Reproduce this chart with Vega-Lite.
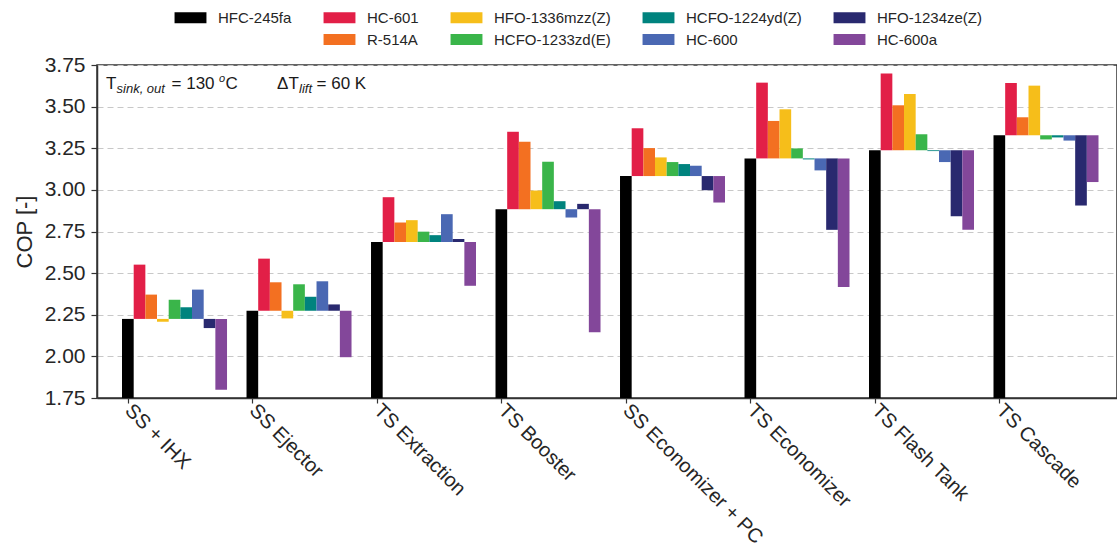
{
  "$schema": "https://vega.github.io/schema/vega-lite/v6.json",
  "width": 1020,
  "height": 333,
  "autosize": {"type": "none"},
  "padding": {"left": 97, "top": 65, "right": 0, "bottom": 155},
  "config": {
    "font": "Liberation Sans",
    "view": {"stroke": "#333333", "strokeWidth": 1.5},
    "legend": {"padding": 0}
  },
  "datasets": {
    "cop": [
      {"config": "SS + IHX", "refrigerant": "HFC-245fa", "cop": 2.225, "ref": 2.225},
      {"config": "SS + IHX", "refrigerant": "HC-601", "cop": 2.551, "ref": 2.225},
      {"config": "SS + IHX", "refrigerant": "R-514A", "cop": 2.371, "ref": 2.225},
      {"config": "SS + IHX", "refrigerant": "HFO-1336mzz(Z)", "cop": 2.208, "ref": 2.225},
      {"config": "SS + IHX", "refrigerant": "HCFO-1233zd(E)", "cop": 2.340, "ref": 2.225},
      {"config": "SS + IHX", "refrigerant": "HCFO-1224yd(Z)", "cop": 2.295, "ref": 2.225},
      {"config": "SS + IHX", "refrigerant": "HC-600", "cop": 2.401, "ref": 2.225},
      {"config": "SS + IHX", "refrigerant": "HFO-1234ze(Z)", "cop": 2.170, "ref": 2.225},
      {"config": "SS + IHX", "refrigerant": "HC-600a", "cop": 1.799, "ref": 2.225},
      {"config": "SS Ejector", "refrigerant": "HFC-245fa", "cop": 2.274, "ref": 2.274},
      {"config": "SS Ejector", "refrigerant": "HC-601", "cop": 2.587, "ref": 2.274},
      {"config": "SS Ejector", "refrigerant": "R-514A", "cop": 2.445, "ref": 2.274},
      {"config": "SS Ejector", "refrigerant": "HFO-1336mzz(Z)", "cop": 2.228, "ref": 2.274},
      {"config": "SS Ejector", "refrigerant": "HCFO-1233zd(E)", "cop": 2.433, "ref": 2.274},
      {"config": "SS Ejector", "refrigerant": "HCFO-1224yd(Z)", "cop": 2.358, "ref": 2.274},
      {"config": "SS Ejector", "refrigerant": "HC-600", "cop": 2.451, "ref": 2.274},
      {"config": "SS Ejector", "refrigerant": "HFO-1234ze(Z)", "cop": 2.312, "ref": 2.274},
      {"config": "SS Ejector", "refrigerant": "HC-600a", "cop": 1.995, "ref": 2.274},
      {"config": "TS Extraction", "refrigerant": "HFC-245fa", "cop": 2.687, "ref": 2.687},
      {"config": "TS Extraction", "refrigerant": "HC-601", "cop": 2.956, "ref": 2.687},
      {"config": "TS Extraction", "refrigerant": "R-514A", "cop": 2.804, "ref": 2.687},
      {"config": "TS Extraction", "refrigerant": "HFO-1336mzz(Z)", "cop": 2.818, "ref": 2.687},
      {"config": "TS Extraction", "refrigerant": "HCFO-1233zd(E)", "cop": 2.749, "ref": 2.687},
      {"config": "TS Extraction", "refrigerant": "HCFO-1224yd(Z)", "cop": 2.728, "ref": 2.687},
      {"config": "TS Extraction", "refrigerant": "HC-600", "cop": 2.854, "ref": 2.687},
      {"config": "TS Extraction", "refrigerant": "HFO-1234ze(Z)", "cop": 2.705, "ref": 2.687},
      {"config": "TS Extraction", "refrigerant": "HC-600a", "cop": 2.424, "ref": 2.687},
      {"config": "TS Booster", "refrigerant": "HFC-245fa", "cop": 2.884, "ref": 2.884},
      {"config": "TS Booster", "refrigerant": "HC-601", "cop": 3.349, "ref": 2.884},
      {"config": "TS Booster", "refrigerant": "R-514A", "cop": 3.289, "ref": 2.884},
      {"config": "TS Booster", "refrigerant": "HFO-1336mzz(Z)", "cop": 2.996, "ref": 2.884},
      {"config": "TS Booster", "refrigerant": "HCFO-1233zd(E)", "cop": 3.169, "ref": 2.884},
      {"config": "TS Booster", "refrigerant": "HCFO-1224yd(Z)", "cop": 2.932, "ref": 2.884},
      {"config": "TS Booster", "refrigerant": "HC-600", "cop": 2.834, "ref": 2.884},
      {"config": "TS Booster", "refrigerant": "HFO-1234ze(Z)", "cop": 2.916, "ref": 2.884},
      {"config": "TS Booster", "refrigerant": "HC-600a", "cop": 2.145, "ref": 2.884},
      {"config": "SS Economizer + PC", "refrigerant": "HFC-245fa", "cop": 3.083, "ref": 3.083},
      {"config": "SS Economizer + PC", "refrigerant": "HC-601", "cop": 3.370, "ref": 3.083},
      {"config": "SS Economizer + PC", "refrigerant": "R-514A", "cop": 3.251, "ref": 3.083},
      {"config": "SS Economizer + PC", "refrigerant": "HFO-1336mzz(Z)", "cop": 3.195, "ref": 3.083},
      {"config": "SS Economizer + PC", "refrigerant": "HCFO-1233zd(E)", "cop": 3.167, "ref": 3.083},
      {"config": "SS Economizer + PC", "refrigerant": "HCFO-1224yd(Z)", "cop": 3.155, "ref": 3.083},
      {"config": "SS Economizer + PC", "refrigerant": "HC-600", "cop": 3.145, "ref": 3.083},
      {"config": "SS Economizer + PC", "refrigerant": "HFO-1234ze(Z)", "cop": 2.998, "ref": 3.083},
      {"config": "SS Economizer + PC", "refrigerant": "HC-600a", "cop": 2.924, "ref": 3.083},
      {"config": "TS Economizer", "refrigerant": "HFC-245fa", "cop": 3.189, "ref": 3.189},
      {"config": "TS Economizer", "refrigerant": "HC-601", "cop": 3.644, "ref": 3.189},
      {"config": "TS Economizer", "refrigerant": "R-514A", "cop": 3.414, "ref": 3.189},
      {"config": "TS Economizer", "refrigerant": "HFO-1336mzz(Z)", "cop": 3.484, "ref": 3.189},
      {"config": "TS Economizer", "refrigerant": "HCFO-1233zd(E)", "cop": 3.249, "ref": 3.189},
      {"config": "TS Economizer", "refrigerant": "HCFO-1224yd(Z)", "cop": 3.183, "ref": 3.189},
      {"config": "TS Economizer", "refrigerant": "HC-600", "cop": 3.117, "ref": 3.189},
      {"config": "TS Economizer", "refrigerant": "HFO-1234ze(Z)", "cop": 2.760, "ref": 3.189},
      {"config": "TS Economizer", "refrigerant": "HC-600a", "cop": 2.416, "ref": 3.189},
      {"config": "TS Flash Tank", "refrigerant": "HFC-245fa", "cop": 3.238, "ref": 3.238},
      {"config": "TS Flash Tank", "refrigerant": "HC-601", "cop": 3.699, "ref": 3.238},
      {"config": "TS Flash Tank", "refrigerant": "R-514A", "cop": 3.508, "ref": 3.238},
      {"config": "TS Flash Tank", "refrigerant": "HFO-1336mzz(Z)", "cop": 3.576, "ref": 3.238},
      {"config": "TS Flash Tank", "refrigerant": "HCFO-1233zd(E)", "cop": 3.334, "ref": 3.238},
      {"config": "TS Flash Tank", "refrigerant": "HCFO-1224yd(Z)", "cop": 3.233, "ref": 3.238},
      {"config": "TS Flash Tank", "refrigerant": "HC-600", "cop": 3.167, "ref": 3.238},
      {"config": "TS Flash Tank", "refrigerant": "HFO-1234ze(Z)", "cop": 2.841, "ref": 3.238},
      {"config": "TS Flash Tank", "refrigerant": "HC-600a", "cop": 2.760, "ref": 3.238},
      {"config": "TS Cascade", "refrigerant": "HFC-245fa", "cop": 3.328, "ref": 3.328},
      {"config": "TS Cascade", "refrigerant": "HC-601", "cop": 3.642, "ref": 3.328},
      {"config": "TS Cascade", "refrigerant": "R-514A", "cop": 3.436, "ref": 3.328},
      {"config": "TS Cascade", "refrigerant": "HFO-1336mzz(Z)", "cop": 3.626, "ref": 3.328},
      {"config": "TS Cascade", "refrigerant": "HCFO-1233zd(E)", "cop": 3.303, "ref": 3.328},
      {"config": "TS Cascade", "refrigerant": "HCFO-1224yd(Z)", "cop": 3.315, "ref": 3.328},
      {"config": "TS Cascade", "refrigerant": "HC-600", "cop": 3.296, "ref": 3.328},
      {"config": "TS Cascade", "refrigerant": "HFO-1234ze(Z)", "cop": 2.906, "ref": 3.328},
      {"config": "TS Cascade", "refrigerant": "HC-600a", "cop": 3.047, "ref": 3.328}
    ]
  },
  "layer": [
    {
      "data": {"name": "cop"},
      "transform": [{"filter": "datum.refrigerant === 'HFC-245fa'"}],
      "mark": {"type": "bar"},
      "encoding": {
        "x": {
          "field": "config", "type": "nominal", "title": null,
          "sort": ["SS + IHX", "SS Ejector", "TS Extraction", "TS Booster", "SS Economizer + PC", "TS Economizer", "TS Flash Tank", "TS Cascade"],
          "scale": {"paddingInner": 0.1566, "paddingOuter": 0.1748, "align": 0.575},
          "axis": {
            "tickOffset": -46.7, "labelAngle": 45, "labelAlign": "left", "labelBaseline": "middle",
            "labelFontSize": 20, "labelColor": "#262626", "labelPadding": 4, "labelLimit": 500,
            "labelOverlap": false, "labelFlush": false, "tickSize": 5, "tickColor": "#333333", "tickWidth": 1.2,
            "domainColor": "#333333", "domainWidth": 1.5, "grid": false
          }
        },
        "xOffset": {
          "field": "refrigerant", "type": "nominal",
          "scale": {"domain": ["HFC-245fa", "HC-601", "R-514A", "HFO-1336mzz(Z)", "HCFO-1233zd(E)", "HCFO-1224yd(Z)", "HC-600", "HFO-1234ze(Z)", "HC-600a"], "paddingInner": 0, "paddingOuter": 0}
        },
        "y": {
          "field": "cop", "type": "quantitative", "title": "COP [-]",
          "scale": {"domain": [1.75, 3.75], "zero": false, "nice": false},
          "axis": {
            "values": [1.75, 2.0, 2.25, 2.5, 2.75, 3.0, 3.25, 3.5, 3.75], "format": ".2f",
            "labelFontSize": 21, "labelColor": "#262626", "labelPadding": 6, "labelFlush": false, "labelOverlap": false,
            "titleFontSize": 22, "titleFontWeight": "normal", "titleColor": "#262626", "titlePadding": 8,
            "tickSize": 6, "tickColor": "#333333", "tickWidth": 1.2, "domainColor": "#333333", "domainWidth": 1.5,
            "grid": true, "gridDash": [6, 4], "gridColor": "#c8c8c8", "gridWidth": 1
          }
        },
        "y2": {"datum": 1.75},
        "color": {
          "field": "refrigerant", "type": "nominal",
          "scale": {
            "domain": ["HFC-245fa", "blank", "HC-601", "R-514A", "HFO-1336mzz(Z)", "HCFO-1233zd(E)", "HCFO-1224yd(Z)", "HC-600", "HFO-1234ze(Z)", "HC-600a"],
            "range": ["#000000", "rgba(0,0,0,0)", "#e21f47", "#f37021", "#f6be1a", "#3ab54a", "#00837e", "#4a68b3", "#29296f", "#83479a"]
          },
          "legend": {
            "title": null, "orient": "none", "legendX": 86, "legendY": -55, "columns": 5,
            "symbolType": "M-2.9,-1H2.9V1H-2.9Z", "symbolSize": 121, "symbolStrokeWidth": 0,
            "labelFontSize": 15, "labelColor": "#262626", "labelOffset": 20, "labelLimit": 300,
            "rowPadding": 6, "columnPadding": 31,
            "labelExpr": "datum.label === 'blank' ? '' : datum.label"
          }
        }
      }
    },
    {
      "data": {"name": "cop"},
      "transform": [{"filter": "datum.refrigerant !== 'HFC-245fa'"}],
      "mark": {"type": "bar"},
      "encoding": {
        "x": {
          "field": "config", "type": "nominal", "title": null,
          "sort": ["SS + IHX", "SS Ejector", "TS Extraction", "TS Booster", "SS Economizer + PC", "TS Economizer", "TS Flash Tank", "TS Cascade"]
        },
        "xOffset": {
          "field": "refrigerant", "type": "nominal",
          "scale": {"domain": ["HFC-245fa", "HC-601", "R-514A", "HFO-1336mzz(Z)", "HCFO-1233zd(E)", "HCFO-1224yd(Z)", "HC-600", "HFO-1234ze(Z)", "HC-600a"], "paddingInner": 0, "paddingOuter": 0}
        },
        "y": {"field": "cop", "type": "quantitative"},
        "y2": {"field": "ref"},
        "color": {"field": "refrigerant", "type": "nominal"}
      }
    },
    {
      "data": {"values": [{"note": "conditions"}]},
      "layer": [
        {"mark": {"type": "text", "text": "T", "fontSize": 17, "align": "left", "baseline": "alphabetic", "dx": -68.5, "color": "#1a1a1a"}},
        {"mark": {"type": "text", "text": "sink, out", "fontSize": 13, "fontStyle": "italic", "align": "left", "baseline": "alphabetic", "dx": -58, "dy": 4, "color": "#1a1a1a"}},
        {"mark": {"type": "text", "text": "= 130", "fontSize": 17, "align": "left", "baseline": "alphabetic", "dx": -3, "color": "#1a1a1a"}},
        {"mark": {"type": "text", "text": "o", "fontSize": 11, "fontStyle": "italic", "align": "left", "baseline": "alphabetic", "dx": 44.5, "dy": -7, "color": "#1a1a1a"}},
        {"mark": {"type": "text", "text": "C", "fontSize": 17, "align": "left", "baseline": "alphabetic", "dx": 51, "color": "#1a1a1a"}},
        {"mark": {"type": "text", "text": "ΔT", "fontSize": 17, "align": "left", "baseline": "alphabetic", "dx": 102.5, "color": "#1a1a1a"}},
        {"mark": {"type": "text", "text": "lift", "fontSize": 13, "fontStyle": "italic", "align": "left", "baseline": "alphabetic", "dx": 124.5, "dy": 4, "color": "#1a1a1a"}},
        {"mark": {"type": "text", "text": "= 60 K", "fontSize": 17, "align": "left", "baseline": "alphabetic", "dx": 142, "color": "#1a1a1a"}}
      ],
      "encoding": {
        "x": {"datum": "SS + IHX", "type": "nominal"},
        "y": {"datum": 3.606, "type": "quantitative"}
      }
    }
  ]
}
